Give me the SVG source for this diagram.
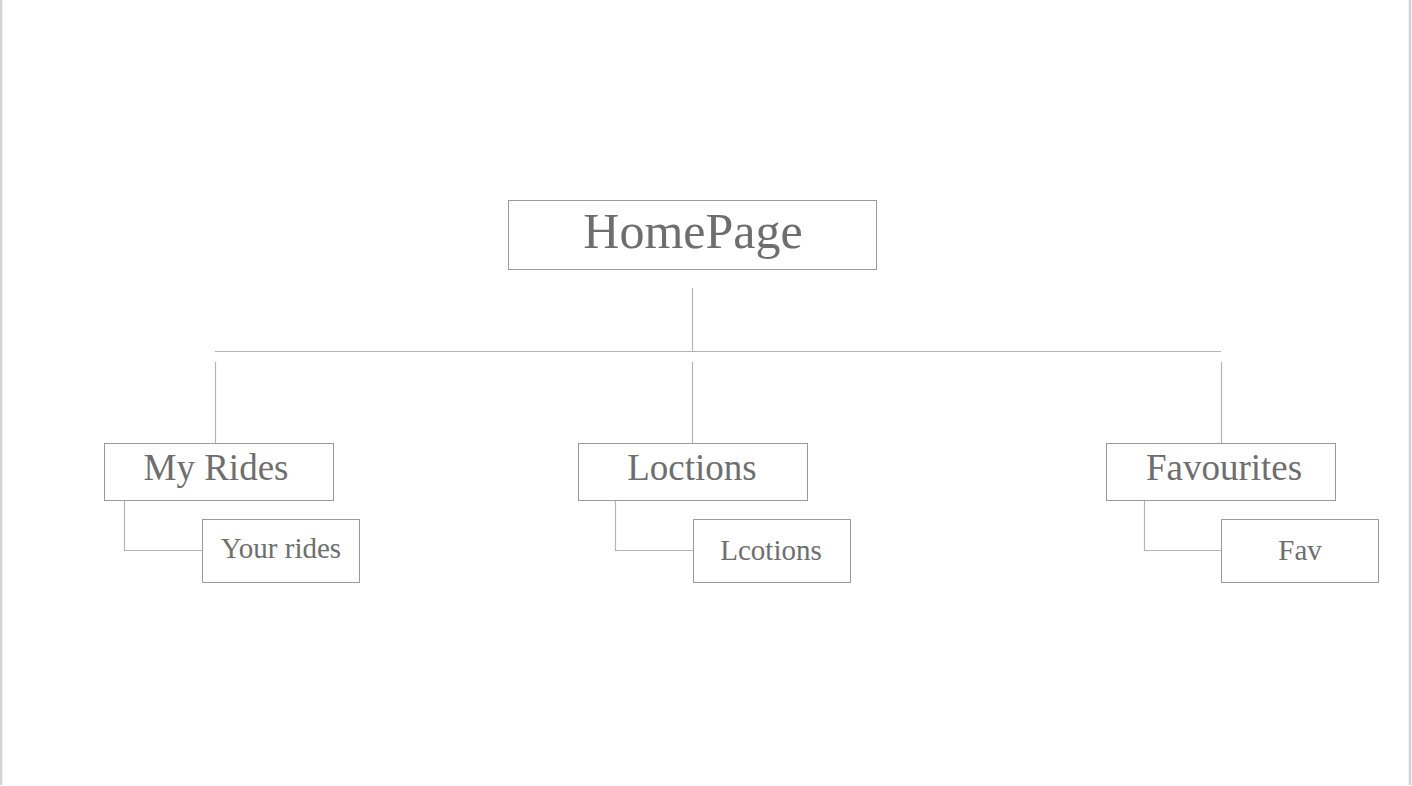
<svg xmlns="http://www.w3.org/2000/svg" width="1412" height="786" viewBox="0 0 1412 786">
<style>
.box{fill:#fff;stroke:#9a9a9a;stroke-width:1}
.lbl{font-family:"Liberation Serif","DejaVu Serif",serif;fill:#6e6e6e;text-anchor:middle}
.con{fill:none;stroke:#b4b4b4;stroke-width:1.2}
.edge{stroke:#d2d2d2;stroke-width:2.5}
</style>
<rect x="0" y="0" width="1412" height="786" fill="#fff"/>
<line class="edge" x1="1" y1="0" x2="1" y2="785"/>
<line class="edge" x1="1410" y1="0" x2="1410" y2="785"/>
<g id="connectors">
<line class="con" x1="692.5" y1="288" x2="692.5" y2="351.5"/>
<line class="con" x1="215" y1="351.5" x2="1221" y2="351.5"/>
<line class="con" x1="215.5" y1="362" x2="215.5" y2="443"/>
<line class="con" x1="692.5" y1="362" x2="692.5" y2="443"/>
<line class="con" x1="1221.5" y1="362" x2="1221.5" y2="443"/>
<polyline class="con" points="124.5,496 124.5,550.5 202,550.5"/>
<polyline class="con" points="615.5,501 615.5,550.5 693,550.5"/>
<polyline class="con" points="1144.5,501 1144.5,550.5 1221,550.5"/>
</g>
<g id="homepage">
<rect class="box" x="508.5" y="200.5" width="368" height="69"/>
<text class="lbl" x="693" y="248" font-size="50">HomePage</text>
</g>
<g id="myrides">
<rect class="box" x="104.5" y="443.5" width="229" height="57"/>
<text class="lbl" x="216" y="480" font-size="37">My Rides</text>
</g>
<g id="loctions">
<rect class="box" x="578.5" y="443.5" width="229" height="57"/>
<text class="lbl" x="692" y="480" font-size="37">Loctions</text>
</g>
<g id="favourites">
<rect class="box" x="1106.5" y="443.5" width="229" height="57"/>
<text class="lbl" x="1224" y="480" font-size="37">Favourites</text>
</g>
<g id="yourrides">
<rect class="box" x="202.5" y="519.5" width="157" height="63"/>
<text class="lbl" x="281" y="558" font-size="29">Your rides</text>
</g>
<g id="lcotions">
<rect class="box" x="693.5" y="519.5" width="157" height="63"/>
<text class="lbl" x="771" y="560" font-size="29">Lcotions</text>
</g>
<g id="fav">
<rect class="box" x="1221.5" y="519.5" width="157" height="63"/>
<text class="lbl" x="1300" y="560" font-size="29">Fav</text>
</g>
</svg>
